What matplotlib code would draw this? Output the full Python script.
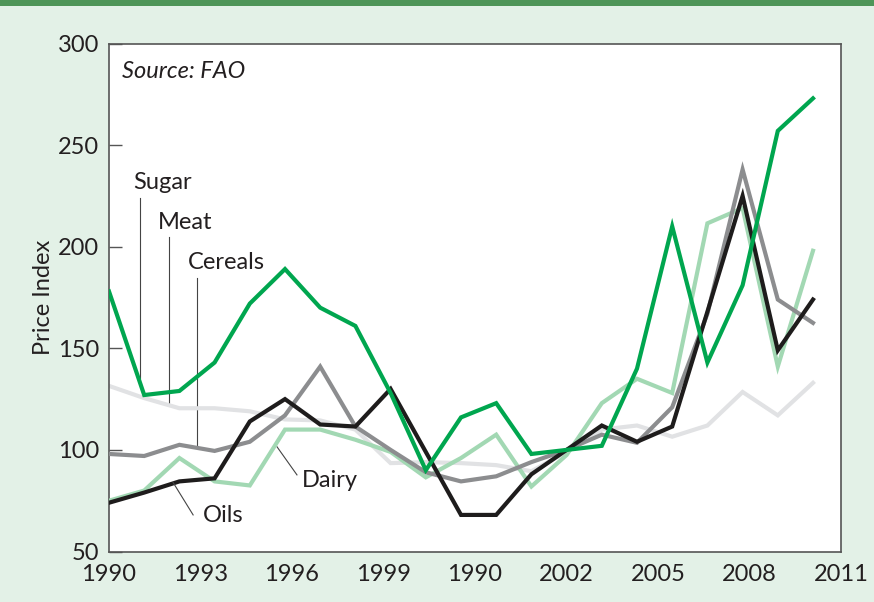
import matplotlib
matplotlib.use("Agg")
import matplotlib.pyplot as plt
from matplotlib.patches import Rectangle

# ---- data (index 0..20, one point per period) ----
sugar   = [178, 127, 129, 143, 172, 189, 170, 161, 128, 90, 116, 123, 98, 100, 102, 140, 210, 143, 181, 257, 273]
meat    = [131.5, 125.5, 120.5, 120.5, 119, 115, 114.5, 110, 93.5, 94, 93.5, 92.5, 89.5, 99, 110, 112, 106.5, 112, 128.5, 117, 133]
cereals = [98, 97, 102.5, 99.5, 104, 117, 141, 111.5, 100, 89, 84.5, 87, 94, 100, 107.5, 103.5, 121, 167, 238, 174, 162.5]
oils    = [74, 79, 84.5, 86, 114, 125, 112.5, 111.5, 130, 99, 68, 68, 88, 100, 112, 104, 111.5, 168, 225, 149, 174]
dairy   = [75, 80, 96, 84.5, 82.5, 110, 110, 105, 99, 86.5, 96, 107.5, 82, 97.5, 123, 135, 128, 211.5, 219, 141, 198]

tick_labels = ["1990", "1993", "1996", "1999", "1990", "2002", "2005", "2008", "2011"]
y_ticks = [50, 100, 150, 200, 250, 300]

BG = "#e3f1e7"
FONT = "Lato"

fig = plt.figure(figsize=(8.74, 6.02), dpi=100, facecolor=BG)
fig.patches.append(Rectangle((0, 1 - 6 / 602), 1, 6 / 602, transform=fig.transFigure,
                             facecolor="#4e9558", edgecolor="none", zorder=0))

ax = fig.add_axes([109 / 874, 1 - 551.5 / 602, 732 / 874, 508 / 602])
ax.set_facecolor("white")

x = list(range(len(sugar)))
lw = 3.0
ax.plot(x, meat, color="#e1e2e4", lw=lw, solid_joinstyle="miter", zorder=2)
ax.plot(x, dairy, color="#a2d8b3", lw=lw, solid_joinstyle="miter", zorder=3)
ax.plot(x, cereals, color="#8c8d8f", lw=lw, solid_joinstyle="miter", zorder=4)
ax.plot(x, oils, color="#1e1c1c", lw=lw, solid_joinstyle="miter", zorder=5)
ax.plot(x, sugar, color="#00a64f", lw=lw, solid_joinstyle="miter", zorder=6)

xmax = 732 / 35.2
ax.set_xlim(0, xmax)
ax.set_ylim(50, 300)
ax.set_xticks([xmax * k / 8 for k in range(9)])
ax.set_xticklabels(tick_labels)
ax.set_yticks(y_ticks)
ax.tick_params(axis="x", length=0, pad=9, labelsize=17, colors="#231f20")
ax.tick_params(axis="y", direction="in", length=9, width=1, color="#555555",
               pad=7, labelsize=17, labelcolor="#231f20")
for lab in ax.get_xticklabels() + ax.get_yticklabels():
    lab.set_fontfamily(FONT)
for s in ax.spines.values():
    s.set_color("#555555")
    s.set_linewidth(1.2)

ax.set_ylabel("Price Index", fontsize=17, family=FONT, color="#231f20", labelpad=3)

ax.text(0.37, 286, "Source: FAO", fontsize=17, style="italic", family=FONT,
        color="#231f20", va="center", ha="left")

lc = "#444444"
llw = 0.8
tf = dict(fontsize=17, family=FONT, color="#231f20", va="center", ha="left")
ax.plot([0.88, 0.88], [224, 135.5], color=lc, lw=llw, zorder=1)
ax.text(0.68, 231.5, "Sugar", **tf)
ax.plot([1.70, 1.70], [204.7, 122], color=lc, lw=llw, zorder=1)
ax.text(1.39, 212, "Meat", **tf)
ax.plot([2.5, 2.5], [184.6, 101.5], color=lc, lw=llw, zorder=1)
ax.text(2.24, 192, "Cereals", **tf)
ax.plot([5.34, 4.77], [87.7, 101.6], color=lc, lw=llw, zorder=1)
ax.text(5.48, 85, "Dairy", **tf)
ax.plot([2.39, 1.82], [68, 84], color=lc, lw=llw, zorder=7)
ax.text(2.67, 67.5, "Oils", **tf)

fig.savefig("out.png", dpi=100, facecolor=BG)
